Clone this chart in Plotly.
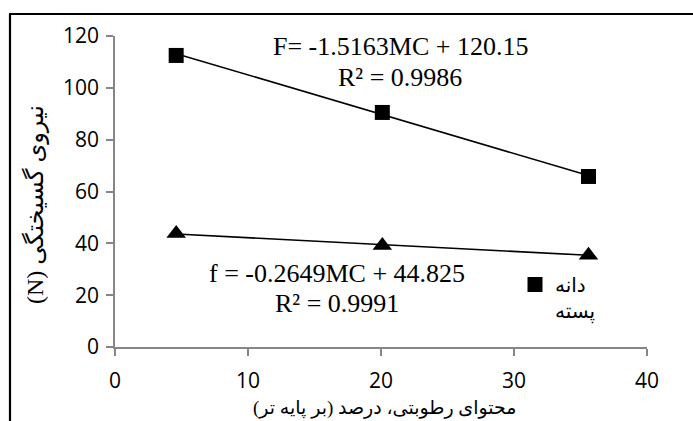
import plotly.graph_objects as go
import numpy as np

# Data
moisture = [4.6, 20.1, 35.6]
force_kernel = [112.5, 90.5, 65.8]     # squares (دانه پسته)
force_nut = [43.8, 39.2, 35.4]          # triangles

# Trendline coefficients printed on chart
F_slope, F_int = -1.5163, 120.15
f_slope, f_int = -0.2649, 44.825

x_ticks = [0, 10, 20, 30, 40]
y_ticks = [0, 20, 40, 60, 80, 100, 120]

W, H = 693, 421
ml, mr, mt, mb = 115, 46, 36, 74

xt = np.array([min(moisture), max(moisture)])

fig = go.Figure()
fig.add_trace(go.Scatter(x=xt, y=F_slope * xt + F_int, mode="lines",
                         line=dict(color="black", width=1.6), showlegend=False, hoverinfo="skip"))
fig.add_trace(go.Scatter(x=xt, y=f_slope * xt + f_int, mode="lines",
                         line=dict(color="black", width=1.6), showlegend=False, hoverinfo="skip"))
fig.add_trace(go.Scatter(x=moisture, y=force_kernel, mode="markers",
                         marker=dict(symbol="square", size=15, color="black"),
                         name="دانه<br>پسته"))
fig.add_trace(go.Scatter(x=moisture, y=force_nut, mode="markers",
                         marker=dict(symbol="triangle-up", size=17, color="black"),
                         showlegend=False))

axis_common = dict(showgrid=False, zeroline=False, showline=True, linecolor="#868686",
                   linewidth=1.5, ticks="outside", tickcolor="#868686", ticklen=7,
                   tickwidth=1.5, tickfont=dict(family="Open Sans", size=21, color="black"))
fig.update_xaxes(range=[0, 40], tickvals=x_ticks, ticklabelstandoff=7, **axis_common)
fig.update_yaxes(range=[0, 120], tickvals=y_ticks, ticklabelstandoff=3, **axis_common)

serif = "Liberation Serif, DejaVu Serif, DejaVu Sans"
def px2x(p):
    return (p - ml) / (W - ml - mr)
def py2y(p):
    return (H - mb - p) / (H - mt - mb)

ann = [
    ("F= -1.5163MC + 120.15", 400, 47),
    ("R² = 0.9986", 400, 77),
    ("f = -0.2649MC + 44.825", 337, 273),
    ("R² = 0.9991", 337, 303),
]
for t, x, y in ann:
    fig.add_annotation(text=t, x=px2x(x), y=py2y(y), xref="paper", yref="paper",
                       showarrow=False, font=dict(family=serif, size=26, color="black"),
                       xanchor="center", yanchor="middle")

fig.add_annotation(text="محتوای رطوبتی، درصد (بر پایه تر)", x=px2x(385), y=py2y(408),
                   xref="paper", yref="paper", showarrow=False,
                   font=dict(family=serif, size=19, color="black"),
                   xanchor="center", yanchor="middle")
fig.add_annotation(text="(N) نیروی گسیختگی", x=px2x(35), y=py2y(205),
                   xref="paper", yref="paper", showarrow=False, textangle=-90,
                   font=dict(family=serif, size=24, color="black"),
                   xanchor="center", yanchor="middle")

# outer frame (only left and top edges visible in the reference)
fig.add_shape(type="line", xref="paper", yref="paper",
              x0=px2x(10), x1=px2x(10), y0=py2y(421), y1=py2y(14),
              line=dict(color="black", width=2.2), layer="above")
fig.add_shape(type="line", xref="paper", yref="paper",
              x0=px2x(9), x1=px2x(693), y0=py2y(14), y1=py2y(14),
              line=dict(color="black", width=2.2), layer="above")

fig.update_layout(
    width=W, height=H, margin=dict(l=ml, r=mr, t=mt, b=mb),
    paper_bgcolor="white", plot_bgcolor="white",
    showlegend=True,
    legend=dict(x=px2x(515), y=py2y(265), xanchor="left", yanchor="top",
                valign="top", bgcolor="rgba(0,0,0,0)",
                font=dict(family="DejaVu Sans", size=20, color="black"),
                itemwidth=30, tracegroupgap=0),
)

fig.write_html("out.html", config={"displayModeBar": False},
               post_script="document.body.style.margin='0';")
